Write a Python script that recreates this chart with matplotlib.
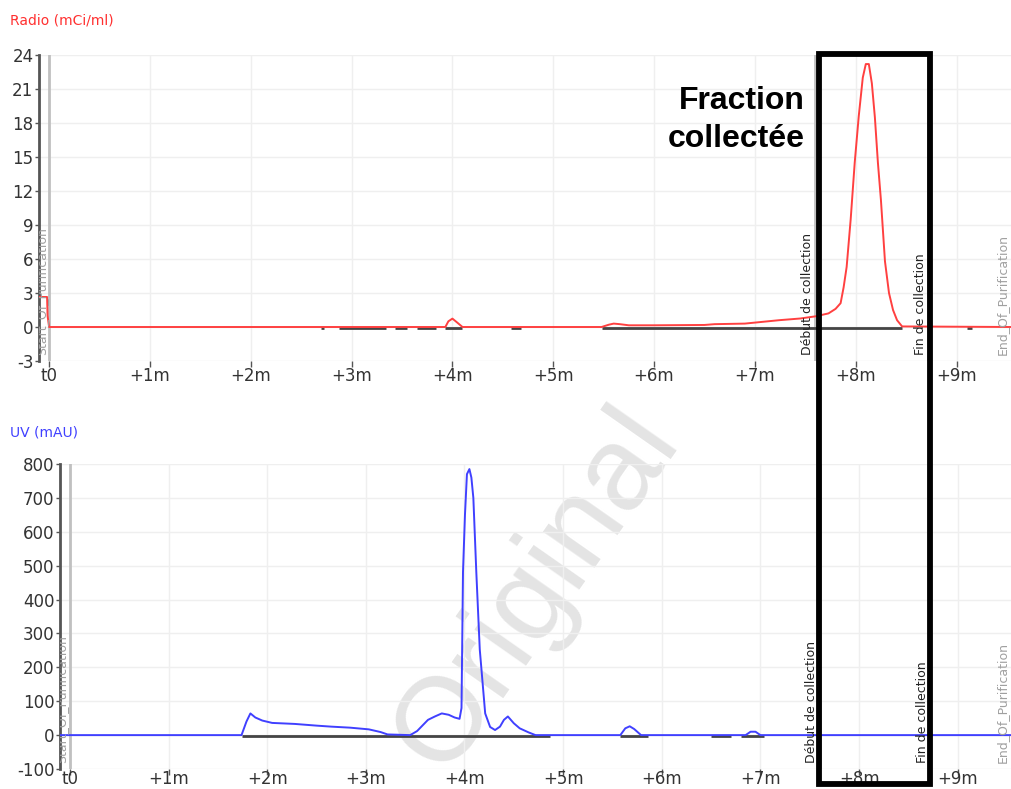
import matplotlib
matplotlib.use("Agg")
import matplotlib.pyplot as plt
from matplotlib.patches import Rectangle
from matplotlib.transforms import blended_transform_factory

# ---------------- data ----------------
radio_t = [-0.10, -0.02, -0.015, 0.0, 3.93, 3.96, 4.0, 4.04, 4.1, 5.48, 5.55, 5.6, 5.66, 5.75,
           6.0, 6.5, 6.6, 6.9, 7.24, 7.45, 7.60, 7.73, 7.80, 7.85, 7.88, 7.91, 7.95, 7.99,
           8.03, 8.07, 8.10, 8.13, 8.16, 8.19, 8.22, 8.25, 8.29, 8.33, 8.37, 8.41, 8.46, 9.54]
radio_v = [2.65, 2.65, 1.0, 0.0, 0.0, 0.5, 0.74, 0.45, 0.0, 0.0, 0.2, 0.3, 0.25, 0.15,
           0.15, 0.18, 0.25, 0.3, 0.6, 0.75, 0.94, 1.2, 1.6, 2.1, 3.5, 5.3, 9.5, 14.5,
           18.6, 22.0, 23.2, 23.2, 21.5, 18.5, 14.5, 11.2, 5.8, 3.0, 1.5, 0.6, 0.05, 0.0]

uv_t = [-0.10, 1.74, 1.79, 1.83, 1.88, 1.95, 2.05, 2.28, 2.5, 2.65, 2.84, 3.03, 3.15, 3.22,
        3.45, 3.52, 3.58, 3.63, 3.70, 3.77, 3.84, 3.90, 3.95, 3.97, 3.985, 4.005, 4.025,
        4.05, 4.07, 4.09, 4.12, 4.155, 4.21, 4.26, 4.31, 4.36, 4.40, 4.44, 4.50, 4.56,
        4.65, 4.72, 5.58, 5.63, 5.675, 5.72, 5.79, 6.85, 6.9, 6.95, 7.0, 9.56]
uv_v = [0, 0, 40, 64, 52, 43, 36, 33, 28, 25, 22, 17, 9, 2,
        0, 12, 30, 45, 55, 64, 60, 52, 48, 80, 481, 650, 770,
        785, 760, 700, 481, 253, 64, 24, 15, 25, 45, 55, 35, 20,
        8, 0, 0, 20, 26, 18, 0, 0, 10, 10, 0, 0]

radio_base_segments = [(2.70, 2.73), (2.88, 3.34), (3.43, 3.55), (3.65, 3.84),
                       (3.93, 4.10), (4.58, 4.68), (5.48, 8.46), (9.10, 9.15)]
uv_base_segments = [(1.74, 4.87), (5.58, 5.86), (6.50, 6.70), (6.80, 7.04)]

x_ticks = [0, 1, 2, 3, 4, 5, 6, 7, 8, 9]
x_labels = ["t0", "+1m", "+2m", "+3m", "+4m", "+5m", "+6m", "+7m", "+8m", "+9m"]
radio_yticks = [-3, 0, 3, 6, 9, 12, 15, 18, 21, 24]
uv_yticks = [-100, 0, 100, 200, 300, 400, 500, 600, 700, 800]

markers = [("Start_Of_Purification", 0.0, "#a0a0a0"),
           ("Début de collection", 7.60, "#222222"),
           ("Fin de collection", 8.72, "#222222"),
           ("End_Of_Purification", 9.535, "#a0a0a0")]

# ---------------- figure ----------------
W, H = 1011, 789
fig = plt.figure(figsize=(W / 100, H / 100), dpi=100)
fig.patch.set_facecolor("white")

ax1 = fig.add_axes([39 / W, 1 - 361 / H, (W - 39) / W, (361 - 55) / H])
ax2 = fig.add_axes([60 / W, 1 - 769 / H, (W - 60) / W, (769 - 464) / H])


def style(ax, yticks, ylim, xpad):
    ax.patch.set_visible(False)
    ax.set_xlim(-0.10, 9.54)
    ax.set_ylim(*ylim)
    ax.set_xticks(x_ticks)
    ax.set_xticklabels(x_labels)
    ax.set_yticks(yticks)
    ax.set_yticklabels([str(v) for v in yticks])
    for s in ["top", "right", "bottom"]:
        ax.spines[s].set_visible(False)
    ax.spines["left"].set_color("#555555")
    ax.spines["left"].set_linewidth(2)
    ax.grid(True, color="#efefef", lw=1, zorder=0)
    ax.set_axisbelow(True)
    ax.tick_params(axis="x", direction="out", length=4, width=1, color="#555555",
                   pad=xpad, labelsize=12, labelcolor="#333333")
    ax.tick_params(axis="y", direction="out", length=3, width=1, color="#555555",
                   pad=1, labelsize=12, labelcolor="#333333")


style(ax1, radio_yticks, (-3, 24), 0)
style(ax2, uv_yticks, (-100, 800), -3)

for ax in (ax1, ax2):
    trans = blended_transform_factory(ax.transData, ax.transAxes)
    for name, t, col in markers:
        if t < 9.5:
            ax.axvline(t, color="#c0c0c0", lw=2, zorder=1)
        ax.annotate(name, xy=(t, 0), xycoords=trans, xytext=(-1, 4),
                    textcoords="offset points", rotation=90, ha="right", va="bottom",
                    fontsize=9, color=col, annotation_clip=False,
                    clip_on=(t == 0.0), zorder=4)

for a, b in radio_base_segments:
    ax1.plot([a, b], [-0.08, -0.08], color="#444444", lw=2, zorder=2, solid_capstyle="butt")
ax1.plot(radio_t, radio_v, color="#ff4040", lw=1.4, zorder=3)

for a, b in uv_base_segments:
    ax2.plot([a, b], [-2, -2], color="#444444", lw=2, zorder=2, solid_capstyle="butt")
ax2.plot(uv_t, uv_v, color="#4040ff", lw=1.4, zorder=3)

fig.text(10 / W, 1 - 20 / H, "Radio (mCi/ml)", color="#ff3030", fontsize=10,
         ha="left", va="center")
fig.text(10 / W, 1 - 432 / H, "UV (mAU)", color="#4040ff", fontsize=10,
         ha="left", va="center")

# watermark
fig.text(537 / W, 1 - 590 / H, "Original", rotation=55, fontsize=86, color="#e4e4e4",
         ha="center", va="center", family="Liberation Sans", zorder=-1)

# annotation box and label
fig.add_artist(Rectangle((819 / W, 1 - 784 / H), (930 - 819) / W, (784 - 54) / H,
                         transform=fig.transFigure, fill=False, lw=4.2, ec="black",
                         zorder=10))
fig.text(805 / W, 1 - 120 / H, "Fraction\ncollectée", ha="right", va="center",
         fontsize=23, fontweight="bold", family="Liberation Sans", linespacing=1.32,
         color="black", zorder=10)

fig.savefig("out.png", dpi=100)
